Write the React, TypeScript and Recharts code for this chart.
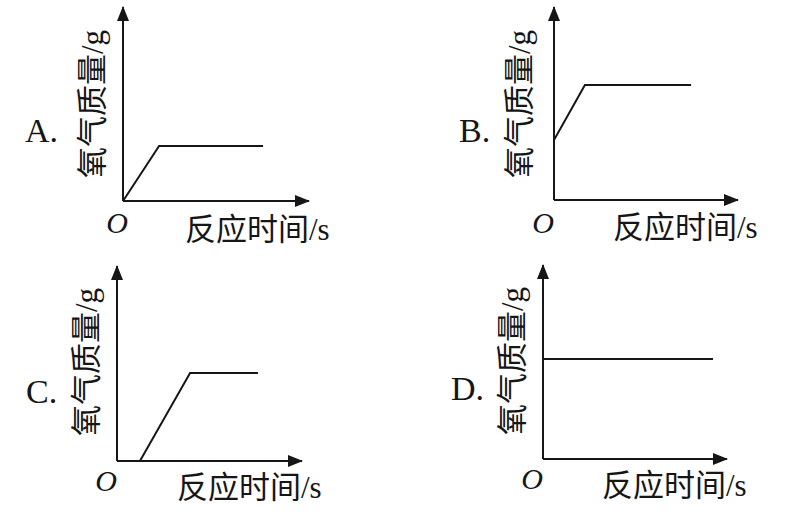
import React from 'react';
import { LineChart, Line, XAxis, YAxis, ReferenceDot, ReferenceLine } from 'recharts';

// time (x) and oxygen mass (y), axes run 0..10
const timeA = [0, 1.94, 7.53];
const massA = [0, 2.84, 2.84];
const timeB = [0, 1.68, 7.45];
const massB = [3.11, 5.96, 5.96];
const timeC = [0, 1.24, 3.95, 7.62];
const massC = [0, 0, 4.51, 4.51];
const timeD = [0, 9.24];
const massD = [5.15, 5.15];

const letters = ['A.', 'B.', 'C.', 'D.'];
const yTitle = '氧气质量/g';
const xTitle = '反应时间/s';
const originText = 'O';

const INK = '#161616';
const FONT = "'Liberation Serif', 'Noto Sans CJK SC', serif";
const W = 400;
const H = 258;
const AXIS_MAX = 10;

const toRows = (t: number[], m: number[]) => t.map((v, i) => ({ t: v, m: m[i] }));

const arrowRight = (p: any) => (
  <path d={`M${p.cx + 1},${p.cy} l-15,-6 l0,12 z`} fill={INK} />
);
const arrowUp = (p: any) => (
  <path d={`M${p.cx},${p.cy - 1} l-6,15 l12,0 z`} fill={INK} />
);

type PanelProps = {
  left: number;
  top: number;
  margin: { top: number; right: number; bottom: number; left: number };
  rows: { t: number; m: number }[];
  letter: string;
  letterPos: [number, number];
  yTitlePos: [number, number];
  originPos: [number, number];
  xTitlePos: [number, number];
};

const Panel: React.FC<PanelProps> = ({ left, top, margin, rows, letter, letterPos, yTitlePos, originPos, xTitlePos }) => (
  <div style={{ position: 'absolute', left, top, width: W, height: H }}>
    <LineChart width={W} height={H} data={rows} margin={margin}>
      <XAxis dataKey="t" type="number" domain={[0, AXIS_MAX]} hide allowDataOverflow />
      <YAxis type="number" domain={[0, AXIS_MAX]} hide allowDataOverflow />
      <ReferenceLine
        segment={[{ x: 0, y: 0 }, { x: AXIS_MAX, y: 0 }]}
        stroke={INK}
        strokeWidth={2}
        ifOverflow="visible"
      />
      <ReferenceLine
        segment={[{ x: 0, y: 0 }, { x: 0, y: AXIS_MAX }]}
        stroke={INK}
        strokeWidth={2}
        ifOverflow="visible"
      />
      <Line
        type="linear"
        dataKey="m"
        stroke={INK}
        strokeWidth={2}
        dot={false}
        activeDot={false}
        isAnimationActive={false}
      />
      <ReferenceDot x={AXIS_MAX} y={0} r={1} shape={arrowRight} ifOverflow="visible" />
      <ReferenceDot x={0} y={AXIS_MAX} r={1} shape={arrowUp} ifOverflow="visible" />
    </LineChart>
    <svg width={W} height={H} style={{ position: 'absolute', left: 0, top: 0, pointerEvents: 'none' }}>
      <g fill={INK} fontFamily={FONT}>
        <text x={letterPos[0]} y={letterPos[1]} fontSize={34}>{letter}</text>
        <text
          x={yTitlePos[0]}
          y={yTitlePos[1]}
          fontSize={31}
          textAnchor="middle"
          dominantBaseline="central"
          transform={`rotate(-90 ${yTitlePos[0]} ${yTitlePos[1]})`}
        >
          {yTitle}
        </text>
        <text x={originPos[0]} y={originPos[1]} fontSize={30} fontStyle="italic" textAnchor="middle">
          {originText}
        </text>
        <text x={xTitlePos[0]} y={xTitlePos[1]} fontSize={31}>
          {xTitle}
        </text>
      </g>
    </svg>
  </div>
);

const App: React.FC = () => (
  <div style={{ position: 'absolute', left: 0, top: 0, width: 799, height: 515, background: '#fff', overflow: 'hidden' }}>
    <Panel
      left={0}
      top={0}
      margin={{ top: 7, right: 91, bottom: 57, left: 123 }}
      rows={toRows(timeA, massA)}
      letter={letters[0]}
      letterPos={[25, 142]}
      yTitlePos={[92, 104]}
      originPos={[117, 233]}
      xTitlePos={[185, 240]}
    />
    <Panel
      left={400}
      top={0}
      margin={{ top: 7, right: 62, bottom: 58, left: 154 }}
      rows={toRows(timeB, massB)}
      letter={letters[1]}
      letterPos={[59, 142]}
      yTitlePos={[119, 104]}
      originPos={[143, 233]}
      xTitlePos={[213, 238]}
    />
    <Panel
      left={0}
      top={258}
      margin={{ top: 8, right: 98, bottom: 55, left: 117 }}
      rows={toRows(timeC, massC)}
      letter={letters[2]}
      letterPos={[26, 145]}
      yTitlePos={[86, 104]}
      originPos={[106, 233]}
      xTitlePos={[177, 240]}
    />
    <Panel
      left={400}
      top={258}
      margin={{ top: 7, right: 73, bottom: 57, left: 143 }}
      rows={toRows(timeD, massD)}
      letter={letters[3]}
      letterPos={[51, 142]}
      yTitlePos={[112, 103]}
      originPos={[132, 231]}
      xTitlePos={[202, 238]}
    />
  </div>
);

export default App;
